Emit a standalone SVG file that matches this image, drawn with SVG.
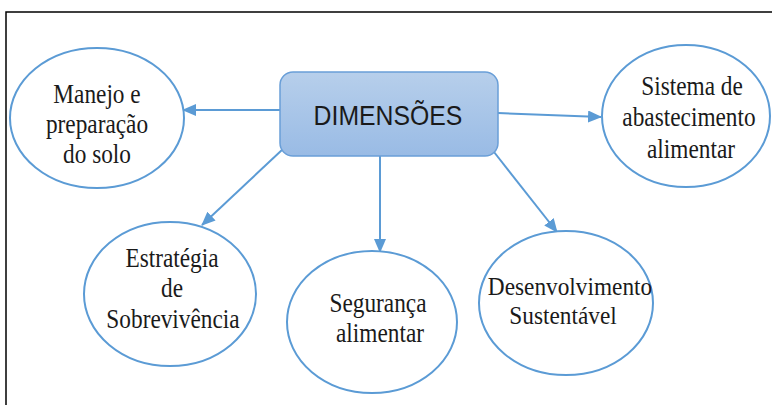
<svg xmlns="http://www.w3.org/2000/svg" width="772" height="405" viewBox="0 0 772 405">
<style>
.ell{fill:#ffffff;stroke:#5b9bd5;stroke-width:2}
.lbl{font-family:"Liberation Serif","Times New Roman",serif;font-size:23.3px;fill:#1a1a1a;text-anchor:middle}
.conn{stroke:#5b9bd5;stroke-width:2;fill:none;marker-end:url(#ah)}
.ttl{font-family:"Liberation Sans",Arial,sans-serif;font-size:24.8px;fill:#1a1a1a;text-anchor:middle}
</style>
<defs>
<linearGradient id="bg" x1="0" y1="0" x2="0" y2="1">
<stop offset="0" stop-color="#b7cfeb"/>
<stop offset="1" stop-color="#99bbe5"/>
</linearGradient>
<marker id="ah" markerUnits="userSpaceOnUse" markerWidth="14" markerHeight="12" refX="13" refY="6" orient="auto">
<path d="M0,0 L14,6 L0,12 Z" fill="#5b9bd5"/>
</marker>
</defs>
<rect x="0" y="0" width="772" height="405" fill="#ffffff"/>
<rect x="6" y="12" width="820" height="440" fill="none" stroke="#000000" stroke-width="1.5"/>
<g id="connectors">
<line class="conn" x1="280" y1="110" x2="183" y2="110"/>
<line class="conn" x1="498" y1="113" x2="601" y2="117"/>
<line class="conn" x1="283" y1="149" x2="202" y2="225"/>
<line class="conn" x1="380" y1="156" x2="380" y2="252"/>
<line class="conn" x1="494" y1="152" x2="557" y2="232"/>
</g>
<g id="center">
<rect x="280" y="72" width="218" height="84" rx="13" fill="url(#bg)" stroke="#6a9fd8" stroke-width="1.5"/>
<text class="ttl" transform="translate(388,125) scale(1,1.12)">DIMENSÕES</text>
</g>
<g id="manejo">
<ellipse class="ell" cx="97" cy="118" rx="87" ry="70"/>
<text class="lbl" transform="translate(97,103) scale(1,1.13)">Manejo e</text>
<text class="lbl" transform="translate(97,133) scale(1,1.13)">preparação</text>
<text class="lbl" transform="translate(97,163) scale(1,1.13)">do solo</text>
</g>
<g id="sistema">
<ellipse class="ell" cx="686" cy="116" rx="84" ry="71"/>
<text class="lbl" transform="translate(692,95) scale(1,1.13)">Sistema de</text>
<text class="lbl" transform="translate(689,126) scale(1,1.13)">abastecimento</text>
<text class="lbl" transform="translate(691,158) scale(1,1.13)">alimentar</text>
</g>
<g id="estrategia">
<ellipse class="ell" cx="170" cy="294" rx="86" ry="72"/>
<text class="lbl" transform="translate(172,267) scale(1,1.13)">Estratégia</text>
<text class="lbl" transform="translate(172,297) scale(1,1.13)">de</text>
<text class="lbl" transform="translate(173,328) scale(1,1.13)">Sobrevivência</text>
</g>
<g id="seguranca">
<ellipse class="ell" cx="372" cy="322" rx="85" ry="71"/>
<text class="lbl" transform="translate(378,312) scale(1,1.13)">Segurança</text>
<text class="lbl" transform="translate(380,342) scale(1,1.13)">alimentar</text>
</g>
<g id="desenvolvimento">
<ellipse class="ell" cx="566" cy="303" rx="87" ry="72"/>
<text class="lbl" transform="translate(570,295) scale(1,1.1)">Desenvolvimento</text>
<text class="lbl" transform="translate(563,324) scale(1,1.1)">Sustentável</text>
</g>
</svg>
